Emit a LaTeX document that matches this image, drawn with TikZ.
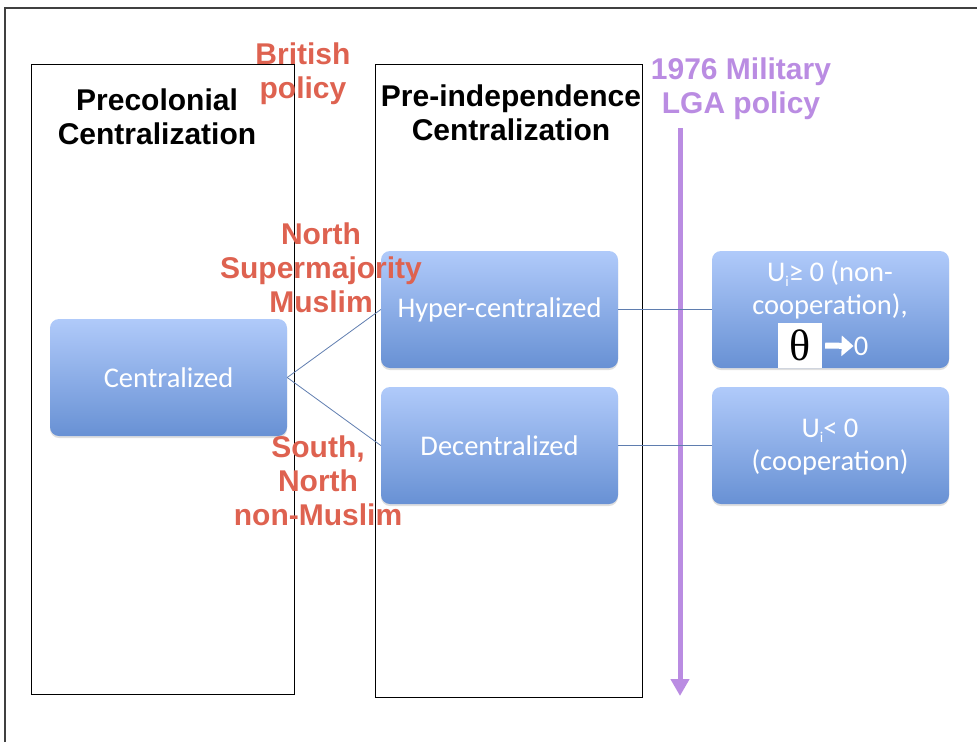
\documentclass[tikz,border=0pt]{standalone}
\usepackage{fontspec}
\setmainfont{Liberation Sans}
\newfontfamily\boxfont{Carlito}
\newfontfamily\serifthe{Liberation Serif}
\usetikzlibrary{arrows.meta,shadows}
\definecolor{redlab}{RGB}{222,98,80}
\definecolor{purplab}{RGB}{186,140,226}
\definecolor{gtop}{RGB}{176,202,250}
\definecolor{gbot}{RGB}{104,145,212}
\definecolor{conn}{RGB}{95,125,175}
\tikzset{
  frame/.style={draw=black!75, line width=1.5pt},
  colbox/.style={draw=black, line width=1pt},
  title/.style={font=\fontsize{30}{34}\selectfont\bfseries, align=center, text=black, inner sep=0pt},
  redtext/.style={font=\fontsize{30}{34}\selectfont\bfseries, align=center, text=redlab, inner sep=0pt},
  purtext/.style={font=\fontsize{30}{34}\selectfont\bfseries, align=center, text=purplab, inner sep=0pt},
  gbox/.style={rounded corners=9pt, top color=gtop, bottom color=gbot, draw=none,
    minimum width=237pt, minimum height=117pt, inner sep=0pt,
    drop shadow={shadow xshift=0pt, shadow yshift=-2pt, opacity=0.25},
    font=\boxfont\fontsize{28.5}{33}\selectfont, text=white, align=center},
  btext/.style={font=\boxfont\fontsize{28.5}{33}\selectfont, text=white, align=center, inner sep=0pt},
  link/.style={draw=conn, line width=0.8pt},
}
\begin{document}
\begin{tikzpicture}[x=1pt,y=-1pt]
\useasboundingbox (0,0) rectangle (977,742);
\draw[frame] (5,742) -- (5,8) -- (977,8);
% column boxes
\draw[colbox] (31,64) rectangle (294,694);
\draw[colbox] (375,64) rectangle (642,697);
\node[title] (t1) at (157,117) {Precolonial\\Centralization};
\node[title] (t2) at (511,113) {Pre-independence\\Centralization};
\node[redtext] (brit) at (303,74) {British\\policy};
\node[purtext] (lga) at (741,89) {1976 Military\\LGA policy};
% purple arrow
\coordinate (pa) at (680,128);
\coordinate (pb) at (680,696);
\draw[purplab, line width=5pt, -{Triangle[width=18pt,length=17pt]}] (pa) -- (pb);
% boxes
\node[gbox] (cen) at (168.5,377.5) {Centralized};
\node[gbox] (hyp) at (499.5,309.5) {Hyper-centralized};
\node[gbox] (dec) at (499.5,445.5) {Decentralized};
\node[gbox] (r1) at (830.5,309.5) {};
\node[gbox] (r2) at (830.5,445.5) {};
% right box texts
\node[btext] (r1t) at (830,290) {U\raisebox{-0.35ex}{\fontsize{15}{15}\selectfont i}≥ 0 (non-\\cooperation),};
\node[fill=white, minimum width=44pt, minimum height=45pt, inner sep=0pt] (th) at (800,345.5) {\serifthe\fontsize{44}{44}\selectfont θ};
\node[btext] (zero) at (861,346) {0};
\draw[white, line width=6pt, -{Triangle[width=20pt,length=12pt]}] (th.east) ++(3,0) coordinate (ta) -- (zero.west);
\node[btext] (r2t) at (830,447) {U\raisebox{-0.35ex}{\fontsize{15}{15}\selectfont i}< 0\\(cooperation)};
% connectors
\draw[link] (cen.east) -- (hyp.west);
\draw[link] (cen.east) -- (dec.west);
\draw[link] (hyp.east) -- (r1.west);
\draw[link] (dec.east) -- (r2.west);
% red labels
\node[redtext] (north) at (321,268) {North\\Supermajority\\Muslim};
\node[redtext] (south) at (318,481) {South,\\North\\non-Muslim};
\end{tikzpicture}
\end{document}
